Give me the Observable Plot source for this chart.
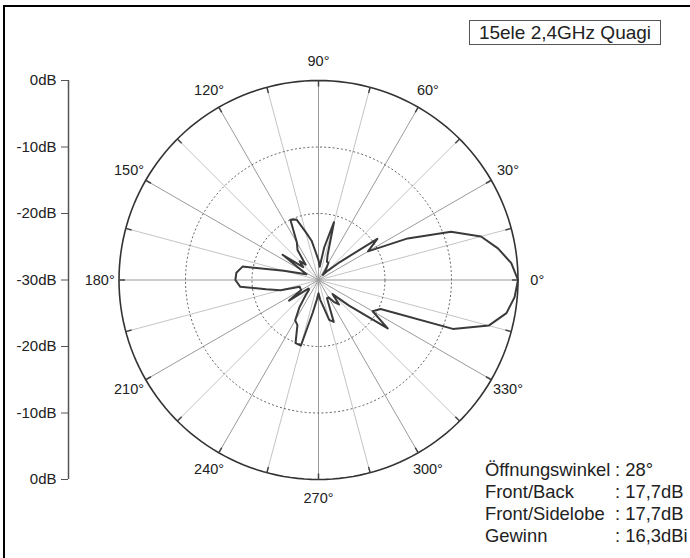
<!DOCTYPE html>
<html><head><meta charset="utf-8">
<script src="https://cdn.jsdelivr.net/npm/d3@7"></script>
<script src="https://cdn.jsdelivr.net/npm/@observablehq/plot@0.6"></script>
<style>
body{margin:0;background:#fff;}
#wrap{position:relative;width:690px;height:558px;overflow:hidden;font-family:"Liberation Sans",Arial,sans-serif;color:#222;background:#fff;}
#frame{position:absolute;left:3px;top:5px;width:720px;height:600px;border-left:2px solid #000;border-top:2px solid #000;pointer-events:none;}
#chart{position:absolute;left:0;top:0;}
#legend{position:absolute;left:469px;top:20px;width:190px;height:23px;border:1px solid #555;background:#fff;font-size:19px;line-height:23px;text-align:center;white-space:nowrap;}
.row{position:absolute;font-size:18.4px;line-height:22px;white-space:nowrap;}
</style></head>
<body>
<div id="wrap">
  <div id="chart"></div>
  <div id="legend"></div>
  <div id="stats"></div>
  <div id="frame"></div>
</div>
<script>
// ---- data ----
const title = "15ele 2,4GHz Quagi";
const angles = [0,5,10,15,20,25,30,35,40,45,50,55,60,65,70,75,80,85,90,95,100,105,110,115,120,125,130,135,140,145,150,155,160,165,170,175,180,185,190,195,200,205,210,215,220,225,230,235,240,245,250,255,260,265,270,275,280,285,290,295,300,305,310,315,320,325,330,335,340,345,350,355];
const gainDb = [0,-0.9,-2.6,-4.7,-8.8,-15.2,-21.4,-19.2,-25.8,-28,-29,-28,-27,-27,-26,-21,-25,-28,-27,-26,-24,-22.5,-20.3,-20,-23.5,-24.5,-27,-26,-27,-23.4,-27,-28,-27,-24.6,-18.4,-17.6,-17.5,-18.2,-22,-24.1,-27,-27,-27,-24.6,-28,-28,-27,-25,-23,-22.5,-19.9,-19.8,-25,-27,-28,-27,-26,-23.8,-23.3,-27,-27,-26,-25.2,-27,-24,-17.3,-20.6,-19.7,-8.5,-3.5,-1.3,-0.4];
const angleLabels = [0,30,60,90,120,150,180,210,240,270,300,330];
const minorSpokes = [15,45,75,105,135,165,195,225,255,285,315,345];
const dbTicks = [-30,-20,-10,0,10,20,30];   // signed radius (dB above -30)
const dottedRings = [-20,-10];                // dB levels
const statLabels = ["Öffnungswinkel","Front/Back","Front/Sidelobe","Gewinn"];
const statValues = [": 28°",": 17,7dB",": 17,7dB",": 16,3dBi"];

// ---- geometry helpers ----
const floorDb = -30;
const rad = a => a * Math.PI / 180;
const rOf = db => Math.max(0, db - floorDb);
const k = 199.5 / 30; // px per dB
const cx = 318, cy = 279.5, W = 690, H = 558, ML = 68;

const pattern = angles.map((a, i) => ({a, r: rOf(gainDb[i])}));
const circle = d3.range(0, 361, 2);
const rings = dottedRings.flatMap(db => circle.map(a => ({db, x: rOf(db)*Math.cos(rad(a)), y: rOf(db)*Math.sin(rad(a))})));
const outer = circle.map(a => ({x: 30*Math.cos(rad(a)), y: 30*Math.sin(rad(a))}));
const R = rOf(0);
const allTicks = [...angleLabels, ...minorSpokes];

const plot = Plot.plot({
  width: W, height: H,
  marginLeft: ML, marginRight: 0, marginTop: 0, marginBottom: 0,
  style: {background: "transparent", fontFamily: '"Liberation Sans", Arial, sans-serif', overflow: "visible"},
  x: {domain: [-(cx - ML)/k, (W - cx)/k], axis: null},
  y: {domain: [-(H - cy)/k, cy/k]},
  marks: [
    Plot.link(minorSpokes, {x1: 0, y1: 0, x2: a => R*Math.cos(rad(a)), y2: a => R*Math.sin(rad(a)), stroke: "#c4c4c4", strokeWidth: 1}),
    Plot.link(angleLabels, {x1: 0, y1: 0, x2: a => R*Math.cos(rad(a)), y2: a => R*Math.sin(rad(a)), stroke: "#9a9a9a", strokeWidth: 1}),
    Plot.line(rings, {x: "x", y: "y", z: "db", stroke: "#666", strokeWidth: 1, strokeDasharray: "1.2,3"}),
    Plot.line(outer, {x: "x", y: "y", stroke: "#333", strokeWidth: 1.6}),
    Plot.link(allTicks, {x1: a => (R-0.9)*Math.cos(rad(a)), y1: a => (R-0.9)*Math.sin(rad(a)), x2: a => R*Math.cos(rad(a)), y2: a => R*Math.sin(rad(a)), stroke: "#444", strokeWidth: 1.5}),
    Plot.line(pattern, {x: d => d.r*Math.cos(rad(d.a)), y: d => d.r*Math.sin(rad(d.a)), curve: "linear-closed", stroke: "#3a3a3a", strokeWidth: 2, strokeLinejoin: "round"}),
    Plot.text(angleLabels, {x: a => 32.9*Math.cos(rad(a)), y: a => 32.9*Math.sin(rad(a)), text: a => a + "°", fontSize: 14.5, fill: "#222"}),
    Plot.ruleX([-(cx - ML)/k], {y1: -30, y2: 30, stroke: "#555", strokeWidth: 1.5}),
    Plot.axisY({ticks: dbTicks, tickFormat: d => (Math.abs(d) - 30) + "dB", tickSize: 7, tickPadding: 5, fontSize: 15, stroke: "#555", fill: "#222", label: null})
  ]
});
document.getElementById("chart").appendChild(plot);
document.getElementById("legend").textContent = title;

const stats = document.getElementById("stats");
statLabels.forEach((s, i) => {
  const top = 458.6 + i*22;
  const a = document.createElement("div"); a.className = "row"; a.style.left = "485px"; a.style.top = top + "px"; a.textContent = s;
  const b = document.createElement("div"); b.className = "row"; b.style.left = "615px"; b.style.top = top + "px"; b.textContent = statValues[i];
  stats.appendChild(a); stats.appendChild(b);
});
</script>
</body></html>
